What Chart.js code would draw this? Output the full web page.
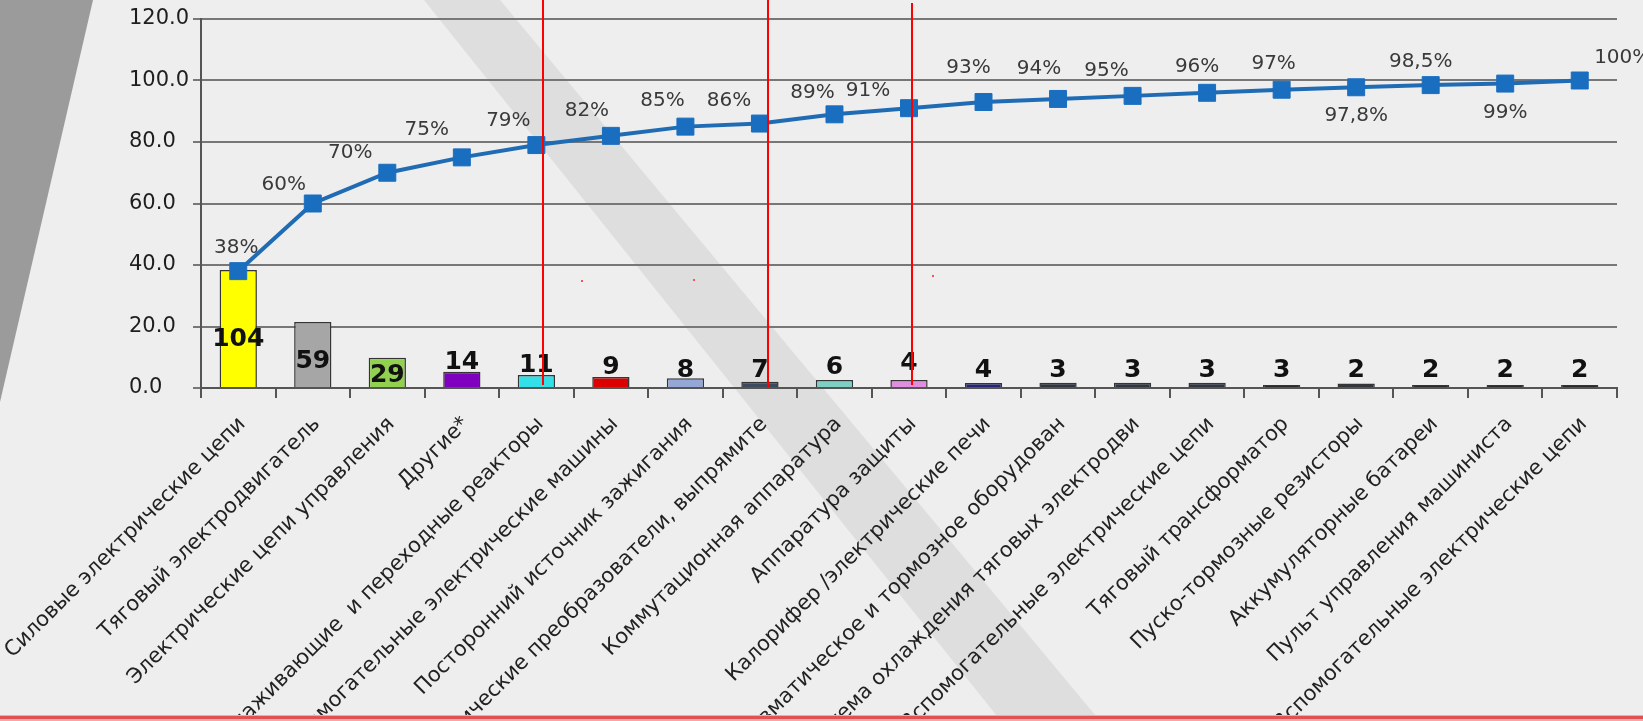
<!DOCTYPE html>
<html>
<head>
<meta charset="utf-8">
<script src="https://cdn.jsdelivr.net/npm/chart.js@4.4.1/dist/chart.umd.min.js"></script>
<style>
html, body { margin: 0; padding: 0; background: #eeeeee; }
canvas { display: block; }
</style>
</head>
<body>
<canvas id="myChart" width="1643" height="721"></canvas>
<script>
// categories (Excel truncated some of them, kept as shown)
var labels = [
    'Силовые электрические цепи',
    'Тяговый электродвигатель',
    'Электрические цепи управления',
    'Другие*',
    'Сглаживающие  и переходные реакторы',
    'Вспомогательные электрические машины',
    'Посторонний источник зажигания',
    'Статические преобразователи, выпрямите',
    'Коммутационная аппаратура',
    'Аппаратура защиты',
    'Калорифер /электрические печи',
    'Пневматическое и тормозное оборудован',
    'Система охлаждения тяговых электродви',
    'Вспомогательные электрические цепи',
    'Тяговый трансформатор',
    'Пуско-тормозные резисторы',
    'Аккумуляторные батареи',
    'Пульт управления машиниста',
    'Вспомогательные электрические цепи'
];
// failure counts (bar labels)
var counts = [104, 59, 29, 14, 11, 9, 8, 7, 6, 4, 4, 3, 3, 3, 3, 2, 2, 2, 2];
// bar heights as drawn
var shares = [38.4, 21.5, 9.8, 5.3, 4.2, 3.6, 3.2, 2.0, 2.6, 2.6, 1.6, 1.7, 1.7, 1.7, 1.0, 1.5, 1.0, 1.0, 1.0];
// cumulative percent (line)
var cumulative = [38, 60, 70, 75, 79, 82, 85, 86, 89, 91, 93, 94, 95, 96, 97, 97.8, 98.5, 99, 100];
// y axis ticks
var yTickValues = [0, 20, 40, 60, 80, 100, 120];

// styling
var barColors = ['#ffff00', '#a6a6a6', '#92d050', '#7f00bf', '#33e0e8', '#dd0000', '#95a7d6', '#3c4a5e',
    '#7fd0c4', '#e08fe0', '#252578', '#2f3640', '#2f3640', '#2f3640', '#2a2a2a', '#2f3640', '#2a2a2a', '#2a2a2a', '#2a2a2a'];
var countLift = [49, 27, 13, 26, 23, 21, 18, 18, 21, 25, 18, 18, 18, 18, 18, 18, 18, 18, 18];
var pctShift = [[-2, -23], [-29, -19], [-37, -20], [-35, -28], [-28, -24], [-24, -25], [-23, -26], [-31, -23],
    [-22, -22], [-41, -17], [-15, -34], [-19, -30], [-26, -25], [-10, -26], [-8, -26], [0, 29], [-10, -23], [0, 29], [43, -23]];

function fmtPct(v) {
    return String(v).replace('.', ',') + '%';
}

var decor = {
    id: 'decor',
    beforeDraw: function (chart) {
        var c = chart.ctx;
        c.save();
        c.fillStyle = '#eeeeee';
        c.fillRect(0, 0, chart.width, chart.height);
        // dark wedge on the left
        c.fillStyle = '#9b9b9b';
        c.beginPath();
        c.moveTo(0, 0); c.lineTo(93, 0); c.lineTo(0, 402);
        c.closePath(); c.fill();
        // light diagonal band
        c.fillStyle = '#dedede';
        c.beginPath();
        c.moveTo(424, 0); c.lineTo(500, 0); c.lineTo(1100, 721); c.lineTo(1001, 721);
        c.closePath(); c.fill();
        c.restore();
    },
    afterDraw: function (chart) {
        var c = chart.ctx;
        c.save();
        c.strokeStyle = '#ff0000';
        c.lineWidth = 2;
        [[543, 0, 385], [768, 0, 388], [912, 3, 385]].forEach(function (l) {
            c.beginPath();
            c.moveTo(l[0], l[1]);
            c.lineTo(l[0], l[2]);
            c.stroke();
        });
        c.fillStyle = '#ff5050';
        c.fillRect(581, 280, 2, 2);
        c.fillRect(693, 279, 2, 2);
        c.fillRect(932, 275, 2, 2);
        // bottom rule
        c.fillStyle = '#f0a8a8';
        c.fillRect(0, 715, chart.width, 6);
        c.fillStyle = '#e05252';
        c.fillRect(0, 716, chart.width, 3);
        c.restore();
    }
};

var valueLabels = {
    id: 'valueLabels',
    afterDatasetsDraw: function (chart) {
        var c = chart.ctx;
        var y0 = chart.scales.y.getPixelForValue(0);
        c.save();
        c.textAlign = 'center';
        c.textBaseline = 'middle';
        c.font = 'bold 25px "DejaVu Sans"';
        c.fillStyle = '#111111';
        chart.getDatasetMeta(1).data.forEach(function (bar, i) {
            c.fillText(String(counts[i]), bar.x, y0 - countLift[i]);
        });
        c.font = '20px "DejaVu Sans"';
        c.fillStyle = '#3a3a3a';
        chart.getDatasetMeta(0).data.forEach(function (p, i) {
            c.fillText(fmtPct(cumulative[i]), p.x + pctShift[i][0], p.y + pctShift[i][1]);
        });
        c.restore();
    }
};

var ctx = document.getElementById('myChart').getContext('2d');
var myChart = new Chart(ctx, {
    type: 'bar',
    data: {
        labels: labels,
        datasets: [{
            type: 'line',
            data: cumulative,
            order: 0,
            borderColor: '#1f6cb4',
            borderWidth: 4,
            tension: 0,
            pointStyle: 'rect',
            pointRadius: 12,
            pointBackgroundColor: '#1a6ec0',
            pointBorderColor: '#1a6ec0',
            pointBorderWidth: 1
        }, {
            type: 'bar',
            data: shares,
            order: 1,
            backgroundColor: barColors,
            borderColor: '#353535',
            borderWidth: 1.5,
            barPercentage: 0.5,
            categoryPercentage: 1
        }]
    },
    options: {
        responsive: false,
        animation: false,
        devicePixelRatio: 1,
        layout: { padding: { left: 129, top: 19, right: 26, bottom: 0 } },
        plugins: { legend: { display: false }, tooltip: { enabled: false } },
        scales: {
            x: {
                offset: true,
                grid: { display: true, drawOnChartArea: false, drawTicks: true, tickLength: 10, color: '#555555', lineWidth: 2, offset: true },
                border: { display: true, color: '#555555', width: 2 },
                ticks: {
                    autoSkip: false,
                    minRotation: 45,
                    maxRotation: 45,
                    padding: 14,
                    labelOffset: 4,
                    color: '#222222',
                    font: { family: 'DejaVu Sans', size: 21 }
                },
                afterFit: function (s) { s.height = 333; s.paddingLeft = 0; s.paddingRight = 0; }
            },
            y: {
                min: 0,
                max: 120,
                afterBuildTicks: function (s) { s.ticks = yTickValues.map(function (v) { return { value: v }; }); },
                grid: { color: '#777777', lineWidth: 2, tickLength: 8 },
                border: { display: true, color: '#555555', width: 2 },
                ticks: {
                    crossAlign: 'far',
                    color: '#1e1e1e',
                    font: { family: 'DejaVu Sans', size: 21 },
                    callback: function (v) { return Number(v).toFixed(1); }
                },
                afterFit: function (s) { s.width = 72; }
            }
        }
    },
    plugins: [decor, valueLabels]
});
</script>
</body>
</html>
